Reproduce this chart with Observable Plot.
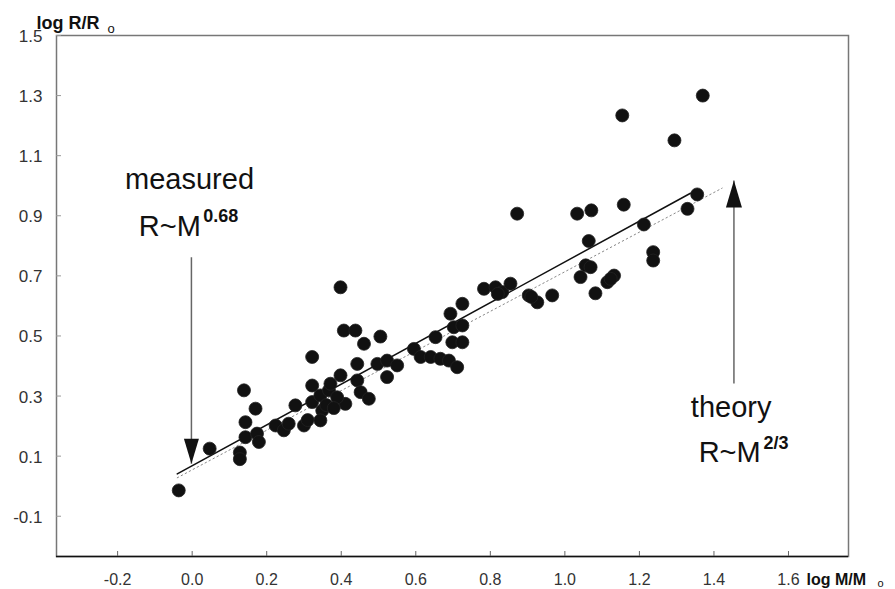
<!DOCTYPE html>
<html>
<head>
<meta charset="utf-8">
<script src="https://cdn.jsdelivr.net/npm/d3@7"></script>
<script src="https://cdn.jsdelivr.net/npm/@observablehq/plot@0.6"></script>
<style>
  body { margin: 0; background: #fff; }
  svg { display: block; }
</style>
</head>
<body>
<div id="chart"></div>
<script>
// ---- data ----
const logM = [-0.036, 0.047, 0.128, 0.128, 0.139, 0.170, 0.143, 0.143, 0.174, 0.179,
  0.224, 0.246, 0.259, 0.277, 0.300, 0.310, 0.322, 0.322, 0.322, 0.344,
  0.349, 0.344, 0.367, 0.371, 0.398, 0.398, 0.407, 0.438, 0.461, 0.505,
  0.443, 0.443, 0.411, 0.389, 0.452, 0.474, 0.497, 0.523, 0.550, 0.523,
  0.595, 0.613, 0.640, 0.666, 0.689, 0.711, 0.653, 0.693, 0.725, 0.702,
  0.725, 0.698, 0.725, 0.360, 0.380, 0.783, 0.814, 0.832, 0.854, 0.820,
  0.872, 0.903, 0.926, 0.966, 1.033, 1.071, 1.064, 1.056, 1.069, 1.042,
  1.082, 1.114, 1.132, 1.154, 1.158, 1.212, 1.237, 1.237, 1.294, 1.329,
  1.355, 1.370, 1.123, 0.910];
const logR = [-0.014, 0.125, 0.112, 0.090, 0.319, 0.258, 0.213, 0.163, 0.175, 0.147,
  0.202, 0.186, 0.208, 0.269, 0.202, 0.220, 0.430, 0.335, 0.280, 0.302,
  0.252, 0.219, 0.319, 0.341, 0.369, 0.662, 0.518, 0.518, 0.474, 0.498,
  0.407, 0.352, 0.274, 0.296, 0.313, 0.291, 0.407, 0.418, 0.402, 0.363,
  0.457, 0.430, 0.430, 0.424, 0.418, 0.396, 0.496, 0.574, 0.607, 0.529,
  0.535, 0.479, 0.479, 0.270, 0.260, 0.657, 0.662, 0.646, 0.674, 0.640,
  0.907, 0.635, 0.612, 0.635, 0.907, 0.918, 0.816, 0.735, 0.729, 0.696,
  0.642, 0.679, 0.701, 1.234, 0.937, 0.871, 0.779, 0.751, 1.151, 0.923,
  0.971, 1.300, 0.690, 0.630];

const xTicks = [-0.2, 0.0, 0.2, 0.4, 0.6, 0.8, 1.0, 1.2, 1.4, 1.6];
const yTicks = [1.5, 1.3, 1.1, 0.9, 0.7, 0.5, 0.3, 0.1, -0.1];
const xDomain = [-0.364, 1.761];
const yDomain = [-0.234, 1.5];

// fitted (measured) line and theory line end points
const fitX = [-0.04, 1.337];
const fitY = [0.041, 0.975];
const theoryX = [-0.04, 1.422];
const theoryY = [0.028, 0.992];

// annotation arrows: x, start y, tip y
const arrowX = [-0.002, 1.4536];
const arrowFrom = [0.762, 0.342];
const arrowTo = [0.0747, 1.0175];

// annotation texts
const noteText = ["measured", "R~M", "theory", "R~M"];
const noteX = [-0.007, -0.143, 1.338, 1.359];
const noteY = [0.990, 0.834, 0.230, 0.080];
const noteAnchor = ["middle", "start", "start", "start"];
const supText = ["0.68", "2/3"];
const supX = [0.030, 1.533];
const supY = [0.880, 0.124];

// ---- build tables ----
const points = logM.map((x, i) => ({x, y: logR[i]}));
const fit = fitX.map((x, i) => ({x, y: fitY[i]}));
const theory = theoryX.map((x, i) => ({x, y: theoryY[i]}));
const arrows = arrowX.map((x, i) => ({x, y1: arrowFrom[i], y2: arrowTo[i]}));
const notes = noteText.map((t, i) => ({text: t, x: noteX[i], y: noteY[i], anchor: noteAnchor[i]}));
const sups = supText.map((t, i) => ({text: t, x: supX[i], y: supY[i]}));

const headDown = {draw(ctx) { ctx.moveTo(-7.5, -25); ctx.lineTo(7.5, -25); ctx.lineTo(0, 0); ctx.closePath(); }};
const headUp = {draw(ctx) { ctx.moveTo(-8, 27); ctx.lineTo(8, 27); ctx.lineTo(0, 0); ctx.closePath(); }};

const fmt = d => d.toFixed(1);
const font = "'Liberation Sans', Arial, Helvetica, sans-serif";

const chart = Plot.plot({
  width: 895,
  height: 589,
  marginLeft: 56,
  marginTop: 35,
  marginRight: 47,
  marginBottom: 33,
  style: {fontFamily: font, background: "#fff", color: "#111", overflow: "visible"},
  x: {domain: xDomain, axis: null},
  y: {domain: yDomain, axis: null},
  marks: [
    Plot.frame({stroke: "#777", strokeWidth: 1.5}),
    Plot.ruleY([yDomain[0]], {stroke: "#111", strokeWidth: 1.5}),
    // ticks (inward)
    Plot.axisX(xTicks, {tickSize: -5, tickFormat: () => "", label: null, stroke: "#666"}),
    Plot.axisY(yTicks, {tickSize: -5, tickFormat: () => "", label: null, stroke: "#999"}),
    // tick labels
    Plot.text(xTicks, {x: d => d, text: fmt, frameAnchor: "bottom", dy: 23, lineAnchor: "middle", fontSize: 16, fill: "#333"}),
    Plot.text(yTicks, {y: d => d, text: fmt, frameAnchor: "left", dx: -14, dy: 1, textAnchor: "end", lineAnchor: "middle", fontSize: 17, fill: "#333"}),
    // axis titles
    Plot.text(["log R/R"], {frameAnchor: "top-left", dx: -20, dy: -7, lineAnchor: "bottom", textAnchor: "start", fontSize: 18, fontWeight: "bold", fill: "#111"}),
    Plot.text(["o"], {frameAnchor: "top-left", dx: 51, dy: -3, lineAnchor: "bottom", textAnchor: "start", fontSize: 13, fill: "#111"}),
    Plot.text(["log M/M"], {frameAnchor: "bottom-right", dx: -42, dy: 28, lineAnchor: "bottom", textAnchor: "start", fontSize: 16, fontWeight: "bold", fill: "#111"}),
    Plot.text(["o"], {frameAnchor: "bottom-right", dx: 29, dy: 30, lineAnchor: "bottom", textAnchor: "start", fontSize: 11, fill: "#111"}),
    // lines
    Plot.line(theory, {x: "x", y: "y", stroke: "#888", strokeWidth: 1, strokeDasharray: "1.5,3"}),
    Plot.line(fit, {x: "x", y: "y", stroke: "#111", strokeWidth: 1.5}),
    // points
    Plot.dot(points, {x: "x", y: "y", r: 6.5, fill: "#111", stroke: "#222", strokeWidth: 0.8}),
    // arrows
    Plot.link(arrows, {x1: "x", x2: "x", y1: "y1", y2: "y2", stroke: "#666", strokeWidth: 1.5}),
    Plot.dot(arrows.slice(0, 1), {x: "x", y: "y2", symbol: headDown, fill: "#111", stroke: "none"}),
    Plot.dot(arrows.slice(1, 2), {x: "x", y: "y2", symbol: headUp, fill: "#111", stroke: "none"}),
    // annotation text
    Plot.text(notes, {x: "x", y: "y", text: "text", textAnchor: "start", filter: d => d.anchor === "start", lineAnchor: "bottom", fontSize: 29, fill: "#111"}),
    Plot.text(notes, {x: "x", y: "y", text: "text", textAnchor: "middle", filter: d => d.anchor === "middle", lineAnchor: "bottom", fontSize: 29, fill: "#111"}),
    Plot.text(sups, {x: "x", y: "y", text: "text", textAnchor: "start", lineAnchor: "bottom", fontSize: 18, fontWeight: "bold", fill: "#111"})
  ]
});
document.getElementById("chart").appendChild(chart);
</script>
</body>
</html>
